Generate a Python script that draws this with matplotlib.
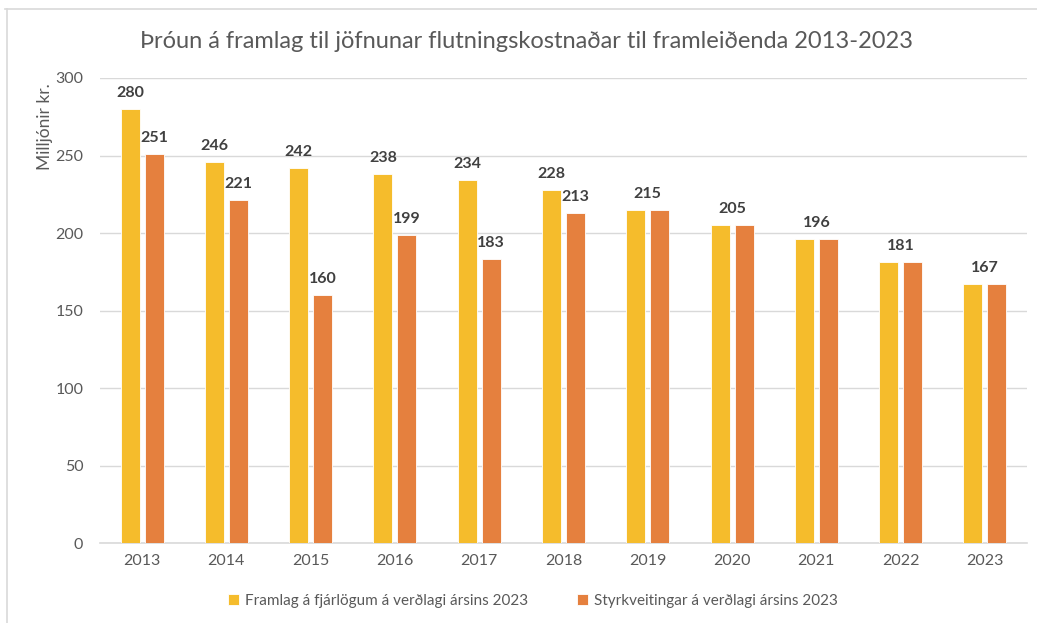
"""
Þróun á framlag til jöfnunar flutningskostnaðar - grouped bars.
"""

import matplotlib
matplotlib.use("Agg")
import matplotlib.pyplot as plt
import numpy as np

# --- Data ---
years = ["2013", "2014", "2015", "2016", "2017", "2018",
         "2019", "2020", "2021", "2022", "2023"]
framlag = [280, 246, 242, 238, 234, 228, 215, 205, 196, 181, 167]
styrkir = [251, 221, 160, 199, 183, 213, 215, 205, 196, 181, 167]

series_names = ["Framlag á fjárlögum á verðlagi ársins 2023",
                "Styrkveitingar á verðlagi ársins 2023"]
title = "Þróun á framlag til jöfnunar flutningskostnaðar til framleiðenda 2013-2023"
ylabel = "Milljónir kr."

YELLOW = "#F5BC2C"
ORANGE = "#E5803E"
TEXT = "#595959"
LABEL = "#404040"
GRID = "#D9D9D9"

plt.rcParams["font.family"] = ["Lato", "DejaVu Sans"]

fig = plt.figure(figsize=(10.37, 6.23), dpi=100)
ax = fig.add_axes([0.0964, 0.1284, 0.894, 0.7464])

x = np.arange(len(years))
w = 0.225
off = 0.1425
b1 = ax.bar(x - off, framlag, w, color=YELLOW, edgecolor="white", linewidth=0.6,
            label=series_names[0], zorder=3)
b2 = ax.bar(x + off, styrkir, w, color=ORANGE, edgecolor="white", linewidth=0.6,
            label=series_names[1], zorder=3)

# data labels: one centered label when both values match
for i, (a, b) in enumerate(zip(framlag, styrkir)):
    if a == b:
        spots = [(x[i], a)]
    else:
        spots = [(x[i] - off, a), (x[i] + off, b)]
    for xi, v in spots:
        ax.annotate(f"{v}", (xi, v), xytext=(0, 6.5), textcoords="offset points",
                    ha="center", va="bottom", fontsize=11.5, fontweight="bold",
                    color=LABEL)

ax.set_xlim(-0.5, len(years) - 0.5)
ax.set_ylim(0, 300)
ax.set_yticks(range(0, 301, 50))
ax.set_xticks(x, years)
ax.tick_params(axis="both", length=0, labelsize=11.5, colors=TEXT)
ax.tick_params(axis="x", pad=8)
ax.tick_params(axis="y", pad=12)
ax.grid(axis="y", color=GRID, linewidth=1, zorder=0)
for s in ("top", "right", "left"):
    ax.spines[s].set_visible(False)
ax.spines["bottom"].set_color(GRID)
ax.spines["bottom"].set_linewidth(1.2)

fig.text(0.508, 1 - 42 / 623, title, ha="center", va="center",
         fontsize=17, color=TEXT)
fig.text(45 / 1037, 1 - 127 / 623, ylabel, ha="center", va="center",
         rotation=90, fontsize=12.5, color=TEXT)

fig.legend(handles=[b1, b2], loc="center", bbox_to_anchor=(0.514, 1 - 601 / 623),
           ncol=2, frameon=False, fontsize=11, labelcolor=TEXT,
           handlelength=0.7, handleheight=0.7, handletextpad=0.4,
           columnspacing=3.2)

# chart-area border (top and left edges visible in the crop)
fig.add_artist(plt.Line2D([5 / 1037, 1], [1 - 9 / 623, 1 - 9 / 623],
                          color=GRID, linewidth=1.2, transform=fig.transFigure))
fig.add_artist(plt.Line2D([7 / 1037, 7 / 1037], [0, 1 - 9 / 623],
                          color=GRID, linewidth=1.2, transform=fig.transFigure))

fig.savefig("out.png", dpi=100)
